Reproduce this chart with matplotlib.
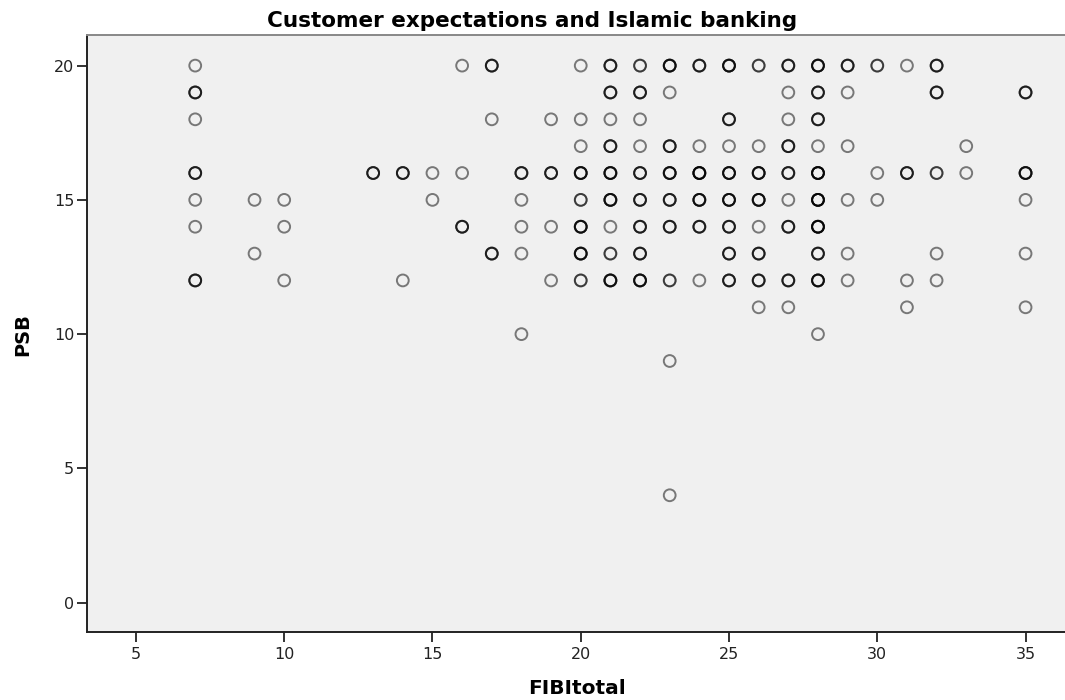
import numpy as np
import matplotlib
matplotlib.use("Agg")
import matplotlib.pyplot as plt

plt.rcParams['font.family'] = ['DejaVu Sans']

# Observed (FIBItotal, PSB) pairs and how many respondents share each pair
fibi_total = [7, 16, 17, 20, 21, 22, 23, 24, 25, 26, 27, 28, 29, 30, 31, 32,
              7, 21, 22, 23, 27, 28, 29, 32, 35,
              7, 17, 19, 20, 21, 22, 25, 27, 28,
              20, 21, 22, 23, 24, 25, 26, 27, 28, 29, 33,
              7, 13, 14, 15, 16, 18, 19, 20, 21, 22, 23, 24, 25, 26, 27, 28, 30, 31, 32, 33, 35,
              7, 9, 10, 15, 18, 20, 21, 22, 23, 24, 25, 26, 27, 28, 29, 30, 35,
              7, 10, 16, 18, 19, 20, 21, 22, 23, 24, 25, 26, 27, 28,
              9, 17, 18, 20, 21, 22, 25, 26, 28, 29, 32, 35,
              7, 10, 14, 19, 20, 21, 22, 23, 24, 25, 26, 27, 28, 29, 31, 32,
              26, 27, 31, 35,
              18, 28,
              23,
              23]
psb = [20] * 16 + [19] * 9 + [18] * 9 + [17] * 11 + [16] * 21 + [15] * 17 + \
      [14] * 14 + [13] * 12 + [12] * 16 + [11] * 4 + [10] * 2 + [9] + [4]
n_cases = [1, 1, 3, 1, 3, 2, 4, 3, 4, 2, 3, 4, 3, 2, 1, 3,
           3, 3, 3, 1, 1, 3, 1, 3, 3,
           1, 1, 1, 1, 1, 1, 3, 1, 3,
           1, 3, 1, 3, 1, 1, 1, 3, 1, 1, 1,
           3, 3, 3, 1, 1, 3, 3, 4, 4, 3, 4, 5, 4, 4, 3, 5, 1, 3, 2, 1, 4,
           1, 1, 1, 1, 1, 2, 4, 3, 3, 4, 4, 4, 1, 5, 1, 1, 1,
           1, 1, 3, 1, 1, 4, 1, 3, 3, 3, 3, 1, 3, 5,
           1, 3, 1, 4, 2, 3, 3, 3, 3, 1, 1, 1,
           3, 1, 1, 1, 2, 4, 4, 2, 1, 3, 3, 3, 4, 1, 1, 1,
           1, 1, 1, 1,
           1, 1,
           1,
           1]

x_ticks = [5, 10, 15, 20, 25, 30, 35]
y_ticks = [0, 5, 10, 15, 20]

# one marker per respondent, so shared values overprint and look darker
xs = np.repeat(fibi_total, n_cases)
ys = np.repeat(psb, n_cases)

fig = plt.figure(figsize=(10.65, 7.0), dpi=100)
fig.patch.set_facecolor('white')
ax = fig.add_axes([0.0814, 0.0976, 0.9186, 0.8524])
ax.set_facecolor('#f0f0f0')

ax.scatter(xs, ys, s=72, facecolors='none', edgecolors='black',
           linewidths=1.4, alpha=0.5, zorder=3)

ax.set_xlim(3.34, 36.33)
ax.set_ylim(-1.08, 21.14)
ax.set_xticks(x_ticks)
ax.set_yticks(y_ticks)
ax.tick_params(axis='both', direction='out', length=7.5, width=1.3,
               color='#222222', labelsize=11.5, labelcolor='#222222')
ax.tick_params(axis='x', pad=3.5)
ax.tick_params(axis='y', pad=1.5)

for side in ('left', 'bottom'):
    ax.spines[side].set_color('#222222')
    ax.spines[side].set_linewidth(1.4)
ax.spines['top'].set_color('#888888')
ax.spines['top'].set_linewidth(1.4)
ax.spines['right'].set_visible(False)

fig.text(0.5417, 1 - 688 / 700, 'FIBItotal', ha='center', va='center',
         fontsize=14.5, fontweight='bold')
fig.text(23 / 1065, 1 - 335 / 700, 'PSB', ha='center', va='center',
         rotation=90, fontsize=14, fontweight='bold')
fig.text(0.5, 1 - 21 / 700, 'Customer expectations and Islamic banking',
         ha='center', va='center', fontsize=15.5, fontweight='bold')

fig.savefig('out.png', dpi=100)
